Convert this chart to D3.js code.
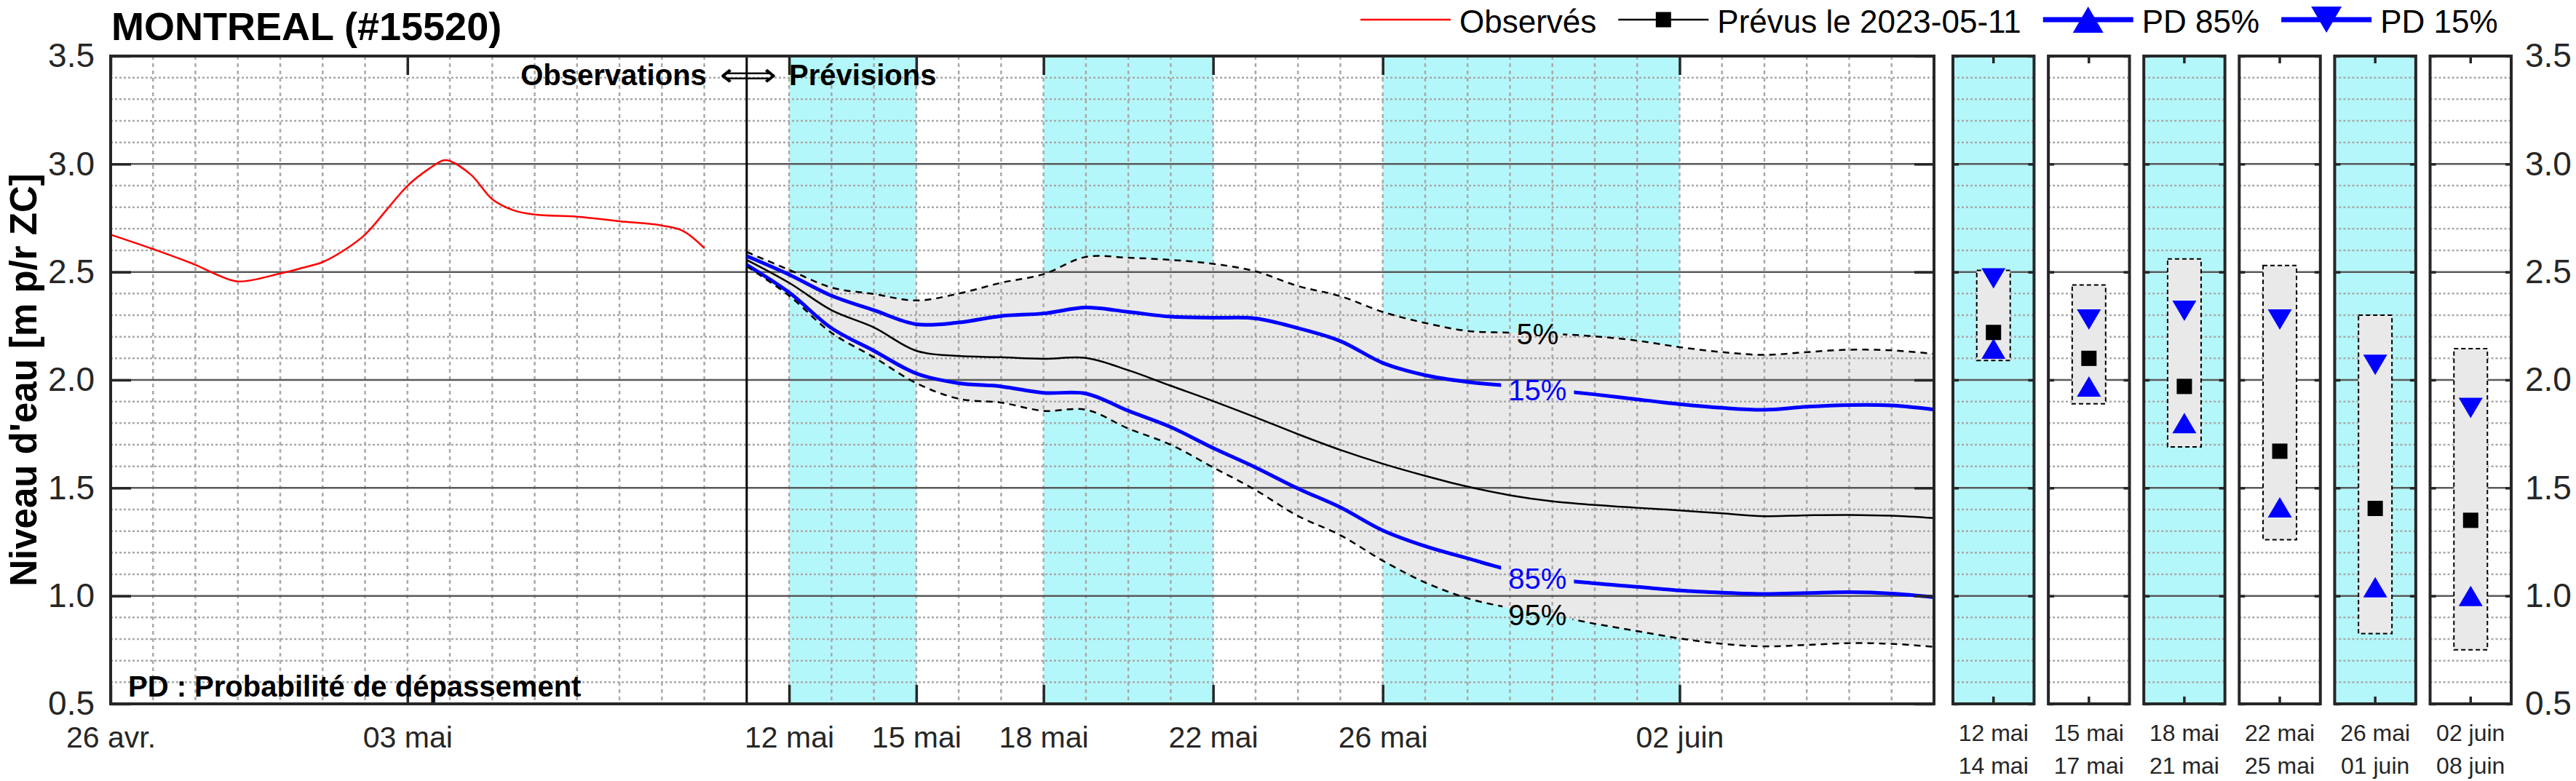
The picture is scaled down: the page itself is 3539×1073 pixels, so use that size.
<!DOCTYPE html>
<html>
<head>
<meta charset="utf-8">
<script src="https://cdn.jsdelivr.net/npm/d3@7"></script>
<style>
  body { margin: 0; background: #fff; }
  svg { font-family: "Liberation Sans", Arial, sans-serif; }
  .axis .domain { display: none; }
  .axis line { stroke: #262626; stroke-width: 3.5; }
  .axis text { fill: #262626; font-family: "Liberation Sans", Arial, sans-serif; }
</style>
</head>
<body>
<svg id="chart"></svg>
<script>
// Days are counted from 26 avr. 2023 (day 0) up to 08 juin (day 43)
const dayTicks = [0, 7, 16, 19, 22, 26, 30, 37];
const dayLabels = ['26 avr.', '03 mai', '12 mai', '15 mai', '18 mai', '22 mai', '26 mai', '02 juin'];
const lastDay = 43;
const forecastStart = 15; // 11 mai
const shadeFrom = [16, 22, 30];
const shadeTo = [19, 26, 37];
const levelTicks = [0.5, 1.0, 1.5, 2.0, 2.5, 3.0, 3.5];

// Observed water level
const obsDay = [0, 1, 2, 2.5, 3, 4, 4.5, 5, 5.5, 6, 6.5, 7, 7.5, 7.85, 8, 8.5, 9, 9.5, 10, 11, 12, 13, 13.5, 14];
const obsLevel = [2.673, 2.606, 2.533, 2.488, 2.456, 2.493, 2.518, 2.546, 2.60, 2.673, 2.786, 2.899, 2.977, 3.017,
  3.014, 2.95, 2.837, 2.786, 2.766, 2.756, 2.735, 2.715, 2.69, 2.611];

// Forecast issued 2023-05-11 (exceedance probabilities)
const fcDay = [15, 16, 17, 18, 19, 20, 21, 22, 23, 24, 25, 26, 27, 28, 29,
  30, 31, 32, 33, 34, 35, 36, 37, 38, 39, 40, 41, 42, 43];
const p05 = [2.593, 2.51, 2.428, 2.398, 2.368, 2.40, 2.45, 2.49, 2.57, 2.566, 2.556, 2.538, 2.503, 2.435, 2.388,
  2.315, 2.264, 2.227, 2.219, 2.213, 2.202, 2.182, 2.152, 2.129, 2.116, 2.129, 2.14, 2.137, 2.121];
const p15 = [2.574, 2.488, 2.39, 2.323, 2.258, 2.266, 2.296, 2.308, 2.335, 2.315, 2.293, 2.288, 2.285, 2.24, 2.18,
  2.079, 2.022, 1.991, 1.972, 1.953, 1.933, 1.91, 1.888, 1.871, 1.862, 1.876, 1.884, 1.882, 1.863];
const median = [2.556, 2.45, 2.323, 2.243, 2.135, 2.111, 2.105, 2.098, 2.102, 2.045, 1.973, 1.902, 1.827, 1.749, 1.676,
  1.612, 1.556, 1.506, 1.466, 1.438, 1.421, 1.408, 1.396, 1.382, 1.369, 1.373, 1.375, 1.371, 1.36];
const p85 = [2.533, 2.405, 2.24, 2.135, 2.03, 1.985, 1.97, 1.94, 1.937, 1.857, 1.782, 1.685, 1.595, 1.497, 1.41,
  1.303, 1.23, 1.174, 1.12, 1.079, 1.058, 1.042, 1.025, 1.015, 1.009, 1.013, 1.017, 1.011, 0.994];
const p95 = [2.526, 2.39, 2.218, 2.105, 1.985, 1.913, 1.895, 1.857, 1.862, 1.775, 1.70, 1.595, 1.49, 1.37, 1.281,
  1.163, 1.062, 0.989, 0.944, 0.91, 0.871, 0.837, 0.803, 0.778, 0.766, 0.773, 0.781, 0.778, 0.764];
const curveLabels = ['5%', '15%', '85%', '95%'];

// Summary per period
const periodStart = ['12 mai', '15 mai', '18 mai', '22 mai', '26 mai', '02 juin'];
const periodEnd = ['14 mai', '17 mai', '21 mai', '25 mai', '01 juin', '08 juin'];
const periodShaded = [true, false, true, false, true, false];
const periodMax = [2.507, 2.44, 2.56, 2.53, 2.30, 2.145];
const periodMin = [2.09, 1.89, 1.69, 1.26, 0.825, 0.75];
const periodMedian = [2.22, 2.10, 1.97, 1.67, 1.405, 1.35];
const periodP15 = [2.47, 2.28, 2.32, 2.28, 2.07, 1.87];
const periodP85 = [2.145, 1.97, 1.80, 1.41, 1.04, 1.00];

const legendLabels = ['Observés', 'Prévus le 2023-05-11', 'PD 85%', 'PD 15%'];

const CYAN = '#b4f7fa';
const BAND = '#e9e9e9';
const EDGE = '#262626';

// triangle path with its box centred on the origin
function triangle(w, h, up) {
  const s = up ? 1 : -1;
  return `M0,${-s * h / 2}L${w / 2},${s * h / 2}L${-w / 2},${s * h / 2}Z`;
}

const width = 3539;
const height = 1073;
const svg = d3.select('#chart').attr('width', width).attr('height', height);

const x = d3.scaleLinear().domain([0, lastDay]).range([152, 2657]);
const y = d3.scaleLinear().domain([0.5, 3.5]).range([967, 77]);
const panelX = d3.scaleBand().domain(periodStart).range([2683, 3450]).paddingInner(0.15);
const [yBottom, yTop] = y.range();

const isMajor = (v) => Math.abs(v * 2 - Math.round(v * 2)) < 1e-6;
const minorLevels = y.ticks(30).filter((v) => !isMajor(v));
const smooth = d3.curveCatmullRom.alpha(0.5);

// ---------- main plot ----------
const main = svg.append('g');

main.selectAll('.shade')
  .data(shadeFrom)
  .join('rect')
  .attr('x', (d) => x(d))
  .attr('width', (d, i) => x(shadeTo[i]) - x(d))
  .attr('y', yTop)
  .attr('height', yBottom - yTop)
  .attr('fill', CYAN);

const fc = fcDay.map((d, i) => ({
  day: d, p05: p05[i], p15: p15[i], med: median[i], p85: p85[i], p95: p95[i],
}));

main.append('path')
  .datum(fc)
  .attr('fill', BAND)
  .attr('d', d3.area()
    .curve(smooth)
    .x((d) => x(d.day))
    .y0((d) => y(d.p95))
    .y1((d) => y(d.p05)));

// grid
const grid = main.append('g');
grid.selectAll('.hminor')
  .data(minorLevels)
  .join('line')
  .attr('x1', x(0)).attr('x2', x(lastDay))
  .attr('y1', (d) => y(d)).attr('y2', (d) => y(d))
  .attr('stroke', '#a9a9a9').attr('stroke-width', 2.5).attr('stroke-dasharray', '3,3');
grid.selectAll('.vminor')
  .data(x.ticks(lastDay).filter((d) => d > 0 && d < lastDay && d !== forecastStart))
  .join('line')
  .attr('x1', (d) => x(d)).attr('x2', (d) => x(d))
  .attr('y1', yTop).attr('y2', yBottom)
  .attr('stroke', '#a9a9a9').attr('stroke-width', 2.5).attr('stroke-dasharray', '5,5');
grid.selectAll('.hmajor')
  .data(levelTicks.slice(1, -1))
  .join('line')
  .attr('x1', x(0)).attr('x2', x(lastDay))
  .attr('y1', (d) => y(d)).attr('y2', (d) => y(d))
  .attr('stroke', '#5a5a5a').attr('stroke-width', 2.5);

// observation / forecast divider
main.append('line')
  .attr('x1', x(forecastStart)).attr('x2', x(forecastStart))
  .attr('y1', yTop).attr('y2', yBottom)
  .attr('stroke', '#000').attr('stroke-width', 3);

const line = (key) => d3.line()
  .curve(smooth)
  .x((d) => x(d.day))
  .y((d) => y(d[key]));

main.append('path')
  .datum(obsDay.map((d, i) => ({ day: d, level: obsLevel[i] })))
  .attr('fill', 'none')
  .attr('stroke', '#ff0000')
  .attr('stroke-width', 2.5)
  .attr('d', line('level'));

main.append('path')
  .datum(fc)
  .attr('fill', 'none')
  .attr('stroke', '#000')
  .attr('stroke-width', 2.5)
  .attr('d', line('med'));

// percentile curves, each broken around its label
const labelIdx = fcDay.indexOf(34);
const labelX = x(33.65);
const curves = [
  { key: 'p05', color: '#000', w: 2.5, dash: '9,7', pad: 6 },
  { key: 'p15', color: '#0000ff', w: 5, dash: null, pad: 10 },
  { key: 'p85', color: '#0000ff', w: 5, dash: null, pad: 10 },
  { key: 'p95', color: '#000', w: 2.5, dash: '9,7', pad: 8 },
];
const defs = svg.append('defs');
curves.forEach((c, i) => {
  const label = main.append('text')
    .attr('x', labelX)
    .attr('y', y(fc[labelIdx][c.key]))
    .attr('dy', '0.35em')
    .attr('text-anchor', 'middle')
    .attr('font-size', 40)
    .attr('fill', c.color)
    .text(curveLabels[i]);
  const bb = label.node().getBBox();
  const mask = defs.append('mask').attr('id', `gap-${c.key}`).attr('maskUnits', 'userSpaceOnUse')
    .attr('x', 0).attr('y', 0).attr('width', width).attr('height', height);
  mask.append('rect').attr('width', width).attr('height', height).attr('fill', '#fff');
  mask.append('rect')
    .attr('x', bb.x - c.pad).attr('y', bb.y)
    .attr('width', bb.width + 2 * c.pad).attr('height', bb.height)
    .attr('fill', '#000');
  main.insert('path', 'text')
    .datum(fc)
    .attr('fill', 'none')
    .attr('stroke', c.color)
    .attr('stroke-width', c.w)
    .attr('stroke-dasharray', c.dash)
    .attr('mask', `url(#gap-${c.key})`)
    .attr('d', line(c.key));
});

// axes of main plot (font set after call, the axis resets it)
main.append('g')
  .attr('class', 'axis')
  .attr('transform', `translate(0,${yBottom})`)
  .call(d3.axisBottom(x).tickValues(dayTicks).tickFormat((d, i) => dayLabels[i])
    .tickSizeInner(-26).tickSizeOuter(0).tickPadding(31))
  .attr('font-size', 41);
main.append('g')
  .attr('class', 'axis')
  .attr('transform', `translate(0,${yTop})`)
  .call(d3.axisTop(x).tickValues(dayTicks).tickFormat('').tickSizeInner(-26).tickSizeOuter(0));
main.append('g')
  .attr('class', 'axis')
  .attr('transform', `translate(${x(0)},0)`)
  .call(d3.axisLeft(y).tickValues(levelTicks).tickFormat(d3.format('.1f'))
    .tickSizeInner(-28).tickSizeOuter(0).tickPadding(22))
  .attr('font-size', 46);
main.append('g')
  .attr('class', 'axis')
  .attr('transform', `translate(${x(lastDay)},0)`)
  .call(d3.axisRight(y).tickValues(levelTicks).tickFormat('').tickSizeInner(-27).tickSizeOuter(0));

main.append('rect')
  .attr('x', x(0)).attr('y', yTop)
  .attr('width', x(lastDay) - x(0)).attr('height', yBottom - yTop)
  .attr('fill', 'none').attr('stroke', EDGE).attr('stroke-width', 4);

// ---------- period panels ----------
const bw = panelX.bandwidth();
periodStart.forEach((p, i) => {
  const g = svg.append('g').attr('transform', `translate(${panelX(p)},0)`);
  const cx = bw / 2;
  g.append('rect')
    .attr('y', yTop).attr('width', bw).attr('height', yBottom - yTop)
    .attr('fill', periodShaded[i] ? CYAN : '#fff');
  g.selectAll('.hminor')
    .data(minorLevels)
    .join('line')
    .attr('x1', 0).attr('x2', bw)
    .attr('y1', (d) => y(d)).attr('y2', (d) => y(d))
    .attr('stroke', '#a9a9a9').attr('stroke-width', 2.5).attr('stroke-dasharray', '3,3');
  g.selectAll('.hmajor')
    .data(levelTicks.slice(1, -1))
    .join('line')
    .attr('x1', 0).attr('x2', bw)
    .attr('y1', (d) => y(d)).attr('y2', (d) => y(d))
    .attr('stroke', '#5a5a5a').attr('stroke-width', 2.5);

  g.append('rect')
    .attr('x', cx - 23).attr('width', 46)
    .attr('y', y(periodMax[i]))
    .attr('height', y(periodMin[i]) - y(periodMax[i]))
    .attr('fill', BAND).attr('stroke', '#000').attr('stroke-width', 2).attr('stroke-dasharray', '6,4');
  g.append('path')
    .attr('transform', `translate(${cx},${y(periodP15[i])})`)
    .attr('d', triangle(33, 28, false)).attr('fill', '#0000ff');
  g.append('path')
    .attr('transform', `translate(${cx},${y(periodP85[i])})`)
    .attr('d', triangle(33, 28, true)).attr('fill', '#0000ff');
  g.append('path')
    .attr('transform', `translate(${cx},${y(periodMedian[i])})`)
    .attr('d', d3.symbol(d3.symbolSquare, 441)()).attr('fill', '#000');

  g.append('g').attr('class', 'axis')
    .call(d3.axisLeft(y).tickValues(levelTicks).tickFormat('').tickSizeInner(-8).tickSizeOuter(0));
  const right = g.append('g').attr('class', 'axis').attr('transform', `translate(${bw},0)`);
  if (i === periodStart.length - 1) {
    right.call(d3.axisRight(y).tickValues(levelTicks).tickFormat(d3.format('.1f'))
      .tickSizeInner(-8).tickSizeOuter(0).tickPadding(19))
      .attr('font-size', 46);
  } else {
    right.call(d3.axisRight(y).tickValues(levelTicks).tickFormat('').tickSizeInner(-8).tickSizeOuter(0));
  }
  [yTop, yBottom].forEach((yy, k) => {
    g.append('line')
      .attr('x1', cx).attr('x2', cx)
      .attr('y1', yy).attr('y2', yy + (k === 0 ? 10 : -10))
      .attr('stroke', EDGE).attr('stroke-width', 3.5);
  });
  g.append('rect')
    .attr('y', yTop).attr('width', bw).attr('height', yBottom - yTop)
    .attr('fill', 'none').attr('stroke', EDGE).attr('stroke-width', 4);

  g.append('text').attr('x', cx).attr('y', 1018)
    .attr('text-anchor', 'middle').attr('font-size', 32).attr('fill', EDGE).text(p);
  g.append('text').attr('x', cx).attr('y', 1063)
    .attr('text-anchor', 'middle').attr('font-size', 32).attr('fill', EDGE).text(periodEnd[i]);
});

// ---------- titles and notes ----------
svg.append('text')
  .attr('x', 153).attr('y', 55)
  .attr('font-size', 54).attr('font-weight', 'bold')
  .text('MONTREAL (#15520)');

svg.append('text')
  .attr('transform', `translate(50,${(yTop + yBottom) / 2}) rotate(-90)`)
  .attr('text-anchor', 'middle')
  .attr('font-size', 51).attr('font-weight', 'bold')
  .text("Niveau d'eau [m p/r ZC]");

svg.append('text')
  .attr('x', x(forecastStart) - 55).attr('y', 117)
  .attr('text-anchor', 'end').attr('font-size', 40).attr('font-weight', 'bold')
  .text('Observations');
// long double arrow, stretched to the width it has in the original
svg.append('text')
  .attr('transform', `translate(${x(forecastStart) + 2},118) scale(1.25,1)`)
  .attr('text-anchor', 'middle').attr('font-size', 44)
  .attr('font-family', '"DejaVu Sans", sans-serif')
  .text('\u27FA');
svg.append('text')
  .attr('x', x(16)).attr('y', 117)
  .attr('font-size', 40).attr('font-weight', 'bold')
  .text('Prévisions');

svg.append('text')
  .attr('x', 176).attr('y', 957)
  .attr('font-size', 40).attr('font-weight', 'bold')
  .text('PD : Probabilité de dépassement');

// ---------- legend ----------
const legendStyle = [
  { color: '#ff0000', w: 2.5, marker: null },
  { color: '#000', w: 2.5, marker: 'square' },
  { color: '#0000ff', w: 7, marker: 'up' },
  { color: '#0000ff', w: 7, marker: 'down' },
];
const legend = svg.append('g');
const ly = 27;
let lx = 1869;
legendLabels.forEach((label, i) => {
  const s = legendStyle[i];
  legend.append('line')
    .attr('x1', lx).attr('x2', lx + 124)
    .attr('y1', ly).attr('y2', ly)
    .attr('stroke', s.color).attr('stroke-width', s.w);
  const mx = lx + 62;
  if (s.marker === 'square') {
    legend.append('path').attr('transform', `translate(${mx},${ly})`)
      .attr('d', d3.symbol(d3.symbolSquare, 441)()).attr('fill', '#000');
  } else if (s.marker) {
    legend.append('path').attr('transform', `translate(${mx},${ly})`)
      .attr('d', triangle(42, 36, s.marker === 'up')).attr('fill', s.color);
  }
  const t = legend.append('text')
    .attr('x', lx + 136).attr('y', 45)
    .attr('font-size', 44)
    .text(label);
  lx += 136 + t.node().getComputedTextLength() + 30;
});
</script>
</body>
</html>
